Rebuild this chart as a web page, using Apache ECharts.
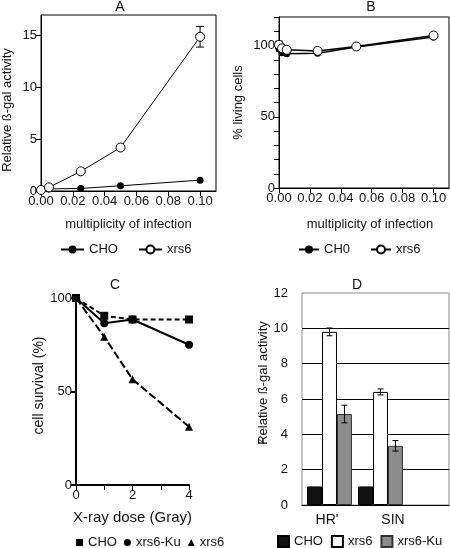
<!DOCTYPE html>
<html><head><meta charset="utf-8">
<script src="https://cdn.jsdelivr.net/npm/echarts@6/dist/echarts.min.js"></script>
<style>html,body{margin:0;padding:0;background:#fff}#c{width:450px;height:548px}</style>
</head><body><div id="c"></div>
<script>
// Panel A
const moiA = [0, 0.005, 0.025, 0.05, 0.1];
const choA = [0.1, 0.2, 0.25, 0.5, 1.05];
const xrs6A = [0.1, 0.35, 1.9, 4.2, 14.9];
const xrs6AErr = [0, 0, 0, 0, 1.0];
const moiTicks = [0, 0.02, 0.04, 0.06, 0.08, 0.1];
const ticksA = [0, 5, 10, 15];
// Panel B
const moiB = [0, 0.002, 0.005, 0.025, 0.05, 0.1];
const choB = [97.5, 95, 94.2, 94.6, 99, 106];
const xrs6B = [100.5, 98, 97, 96.2, 99.3, 107];
const xrs6BErr = [2.5, 0, 0, 0, 0, 0];
const labelsB = [0, 50, 100];
// Panel C
const doseC = [0, 1, 2, 4];
const choC = [100, 90.5, 88.5, 88.5];
const kuC = [100, 86.5, 88.5, 75];
const xrs6C = [100, 79.3, 56.5, 31.2];
const doseLabels = [0, 2, 4];
const survTicks = [0, 50, 100];
// Panel D
const vectorsD = ["HR'", "SIN"];
const choD = [1.05, 1.05];
const xrs6D = [9.8, 6.4];
const kuD = [5.15, 3.35];
const xrs6DErr = [0.22, 0.17];
const kuDErr = [0.5, 0.3];

const FF = 'Liberation Sans, Arial, sans-serif';
const TXT = '#111';
const strip = n => n.split(':')[1];
const pairs = (xs, ys) => xs.map((x, i) => [x, ys[i]]);
const errData = (xs, ys, es) => xs.map((x, i) => [x, ys[i], es[i]]).filter(d => d[2] > 0);

function errRender(capHalf, offFrac) {
  return function (params, api) {
    const x = api.value(0), y = api.value(1), e = api.value(2);
    let hi = api.coord([x, y + e]), lo = api.coord([x, y - e]);
    let off = offFrac ? api.size([1, 0])[0] * offFrac : 0;
    const cx = hi[0] + off;
    const s = { stroke: '#000', lineWidth: 1 };
    return { type: 'group', children: [
      { type: 'line', shape: { x1: cx, y1: hi[1], x2: cx, y2: lo[1] }, style: s },
      { type: 'line', shape: { x1: cx - capHalf, y1: hi[1], x2: cx + capHalf, y2: hi[1] }, style: s },
      { type: 'line', shape: { x1: cx - capHalf, y1: lo[1], x2: cx + capHalf, y2: lo[1] }, style: s }
    ] };
  };
}

const axLine = (w) => ({ show: true, lineStyle: { color: '#000', width: w || 1 } });
const axTick = (vals) => ({ show: true, length: 5, inside: false, lineStyle: { color: '#000' }, customValues: vals });
const lbl = (vals, fmt, size) => ({ color: TXT, fontFamily: FF, fontSize: size || 13, margin: 4, customValues: vals, formatter: fmt });
const nameStyle = (size, pad) => ({ color: TXT, fontFamily: FF, fontSize: size || 13, padding: pad || 0 });
const openCircle = { color: '#fff', borderColor: '#000', borderWidth: 1 };

const chart = echarts.init(document.getElementById('c'), null, { renderer: 'canvas' });
chart.setOption({
  animation: false,
  backgroundColor: '#fff',
  textStyle: { fontFamily: FF },
  grid: [
    { left: 41, top: 15, width: 175, height: 176, show: true, borderColor: '#000', borderWidth: 1, backgroundColor: 'transparent' },
    { left: 279, top: 17, width: 170, height: 171, show: true, borderColor: '#000', borderWidth: 1, backgroundColor: 'transparent' },
    { left: 76, top: 298, width: 113, height: 187 },
    { left: 302, top: 293, width: 147, height: 212, show: true, borderColor: '#8a8a8a', borderWidth: 1, backgroundColor: 'transparent' },
    { left: 304, top: 293, width: 102, height: 212 }
  ],
  xAxis: [
    { gridIndex: 0, type: 'value', min: 0, max: 0.11, axisLine: axLine(), axisTick: axTick(moiTicks),
      axisLabel: lbl(moiTicks, v => v.toFixed(2)), splitLine: { show: false },
      name: 'multiplicity of infection', nameLocation: 'middle', nameGap: 27, nameTextStyle: nameStyle(13) },
    { gridIndex: 1, type: 'value', min: 0, max: 0.11, axisLine: axLine(), axisTick: axTick(moiTicks),
      axisLabel: lbl(moiTicks, v => v.toFixed(2)), splitLine: { show: false },
      name: 'multiplicity of infection', nameLocation: 'middle', nameGap: 30, nameTextStyle: nameStyle(13, [0, 0, 0, 12]) },
    { gridIndex: 2, type: 'value', min: 0, max: 4, interval: 1, axisLine: axLine(2),
      axisTick: { show: true, length: 5, lineStyle: { color: '#000' } },
      axisLabel: lbl(doseLabels, v => String(v)), splitLine: { show: false },
      name: 'X-ray dose (Gray)', nameLocation: 'middle', nameGap: 25, nameTextStyle: nameStyle(15) },
    { gridIndex: 3, type: 'value', min: 0, max: 1, axisLine: axLine(), axisTick: { show: false },
      axisLabel: { show: false }, splitLine: { show: false } },
    { gridIndex: 4, type: 'category', data: vectorsD, axisLine: { show: false }, axisTick: { show: false },
      axisLabel: { color: TXT, fontFamily: FF, fontSize: 14, margin: 8, interval: 0, hideOverlap: false,
        formatter: (v, i) => (i === 0 ? '{a|' : '{b|') + v + '}',
        rich: { a: { fontSize: 14, fontFamily: FF, color: TXT, padding: [0, 5, 0, 0] },
                b: { fontSize: 14, fontFamily: FF, color: TXT, padding: [0, 0, 0, 25] } } } }
  ],
  yAxis: [
    { gridIndex: 0, type: 'value', min: 0, max: 17, axisLine: axLine(), axisTick: axTick(ticksA),
      axisLabel: lbl(ticksA, v => String(v)), splitLine: { show: false },
      name: 'Relative ß-gal activity', nameLocation: 'middle', nameGap: 27, nameTextStyle: nameStyle(13, [0, 14, 0, 0]) },
    { gridIndex: 1, type: 'value', min: 0, max: 120, interval: 10, axisLine: axLine(),
      axisTick: { show: true, length: 5, lineStyle: { color: '#000' } },
      axisLabel: lbl(labelsB, v => String(v)), splitLine: { show: false },
      name: '% living cells', nameLocation: 'middle', nameGap: 34, nameTextStyle: nameStyle(13) },
    { gridIndex: 2, type: 'value', min: 0, max: 100, interval: 50, axisLine: axLine(2),
      axisTick: { show: true, length: 5, lineStyle: { color: '#000', width: 2 } },
      axisLabel: lbl(survTicks, v => String(v)), splitLine: { show: false },
      name: 'cell survival (%)', nameLocation: 'middle', nameGap: 26, nameTextStyle: nameStyle(14, [0, 0, 0, 12]) },
    { gridIndex: 3, type: 'value', min: 0, max: 12, interval: 2, axisLine: { show: false }, axisTick: { show: false },
      axisLabel: { color: TXT, fontFamily: FF, fontSize: 13, margin: 14 },
      splitLine: { show: true, showMinLine: false, showMaxLine: false, lineStyle: { color: '#000', width: 1 } },
      name: 'Relative ß-gal activity', nameLocation: 'middle', nameGap: 27, nameTextStyle: nameStyle(13, [0, 0, 0, 32]) },
    { gridIndex: 4, type: 'value', min: 0, max: 12, show: false }
  ],
  legend: [
    { data: ['A:CHO', 'A:xrs6'], left: 55, top: 238, itemWidth: 23, itemHeight: 10, itemGap: 20, formatter: strip,
      textStyle: { color: TXT, fontFamily: FF, fontSize: 13 }, selectedMode: false },
    { data: ['B:CH0', 'B:xrs6'], left: 293, top: 238, itemWidth: 20, itemHeight: 10, itemGap: 20, formatter: strip,
      textStyle: { color: TXT, fontFamily: FF, fontSize: 13 }, selectedMode: false },
    { data: [{ name: 'C:CHO', icon: 'rect' }, { name: 'C:xrs6-Ku', icon: 'circle' }, { name: 'C:xrs6', icon: 'triangle' }],
      left: 71, top: 531, itemWidth: 7, itemHeight: 7, itemGap: 7, formatter: strip,
      textStyle: { color: TXT, fontFamily: FF, fontSize: 13 }, selectedMode: false },
    { data: [{ name: 'D:CHO', icon: 'rect' }, { name: 'D:xrs6', icon: 'rect' }, { name: 'D:xrs6-Ku', icon: 'rect' }],
      left: 272, top: 530, itemWidth: 11, itemHeight: 11, itemGap: 8, formatter: strip,
      textStyle: { color: TXT, fontFamily: FF, fontSize: 13 }, selectedMode: false }
  ],
  graphic: [
    { type: 'text', x: 120, y: 7, style: { text: 'A', fontSize: 14, fontFamily: FF, fill: TXT, align: 'center', verticalAlign: 'middle' } },
    { type: 'text', x: 371, y: 7, style: { text: 'B', fontSize: 14, fontFamily: FF, fill: TXT, align: 'center', verticalAlign: 'middle' } },
    { type: 'text', x: 115, y: 285, style: { text: 'C', fontSize: 14, fontFamily: FF, fill: TXT, align: 'center', verticalAlign: 'middle' } },
    { type: 'text', x: 357, y: 285, style: { text: 'D', fontSize: 14, fontFamily: FF, fill: TXT, align: 'center', verticalAlign: 'middle' } },
    { type: 'text', x: 262, y: 444, rotation: Math.PI / 2, style: { text: '2', fontSize: 9, fontFamily: FF, fill: TXT, align: 'left', verticalAlign: 'middle' } }
  ],
  series: [
    // A
    { type: 'custom', xAxisIndex: 0, yAxisIndex: 0, z: 1, renderItem: errRender(4), data: errData(moiA, xrs6A, xrs6AErr) },
    { name: 'A:CHO', type: 'line', xAxisIndex: 0, yAxisIndex: 0, data: pairs(moiA, choA), symbol: 'circle', symbolSize: 7,
      itemStyle: { color: '#000' }, lineStyle: { color: '#000', width: 1 } },
    { name: 'A:xrs6', type: 'line', xAxisIndex: 0, yAxisIndex: 0, data: pairs(moiA, xrs6A), symbol: 'circle', symbolSize: 9,
      itemStyle: openCircle, lineStyle: { color: '#000', width: 1 }, z: 3 },
    // B
    { type: 'custom', xAxisIndex: 1, yAxisIndex: 1, z: 1, renderItem: errRender(4), data: errData(moiB, xrs6B, xrs6BErr) },
    { name: 'B:CH0', type: 'line', xAxisIndex: 1, yAxisIndex: 1, data: pairs(moiB, choB), symbol: 'circle', symbolSize: 7,
      itemStyle: { color: '#000' }, lineStyle: { color: '#000', width: 1.5 } },
    { name: 'B:xrs6', type: 'line', xAxisIndex: 1, yAxisIndex: 1, data: pairs(moiB, xrs6B), symbol: 'circle', symbolSize: 9,
      itemStyle: openCircle, lineStyle: { color: '#000', width: 1.5 }, z: 3 },
    // C
    { name: 'C:CHO', type: 'line', xAxisIndex: 2, yAxisIndex: 2, data: pairs(doseC, choC), symbol: 'rect', symbolSize: 8,
      itemStyle: { color: '#000' }, lineStyle: { color: '#000', width: 2, type: [5, 3] } },
    { name: 'C:xrs6-Ku', type: 'line', xAxisIndex: 2, yAxisIndex: 2, data: pairs(doseC, kuC), symbol: 'circle', symbolSize: 8,
      itemStyle: { color: '#000' }, lineStyle: { color: '#000', width: 2 } },
    { name: 'C:xrs6', type: 'line', xAxisIndex: 2, yAxisIndex: 2, data: pairs(doseC, xrs6C), symbol: 'triangle', symbolSize: 8,
      itemStyle: { color: '#000' }, lineStyle: { color: '#000', width: 2, type: [8, 3] } },
    // D
    { name: 'D:CHO', type: 'bar', xAxisIndex: 4, yAxisIndex: 4, data: choD, barGap: '0%', barCategoryGap: '12%',
      itemStyle: { color: '#111', borderColor: '#000', borderWidth: 1 } },
    { name: 'D:xrs6', type: 'bar', xAxisIndex: 4, yAxisIndex: 4, data: xrs6D, barGap: '0%', barCategoryGap: '12%',
      itemStyle: { color: '#fff', borderColor: '#000', borderWidth: 1 } },
    { name: 'D:xrs6-Ku', type: 'bar', xAxisIndex: 4, yAxisIndex: 4, data: kuD, barGap: '0%', barCategoryGap: '12%',
      itemStyle: { color: '#8c8c8c', borderColor: '#333', borderWidth: 1 } },
    { type: 'custom', xAxisIndex: 4, yAxisIndex: 4, z: 5, renderItem: errRender(3, 0),
      data: vectorsD.map((c, i) => [i, xrs6D[i], xrs6DErr[i]]) },
    { type: 'custom', xAxisIndex: 4, yAxisIndex: 4, z: 5, renderItem: errRender(3, 0.88 / 3),
      data: vectorsD.map((c, i) => [i, kuD[i], kuDErr[i]]) }
  ]
});
</script>
</body></html>
